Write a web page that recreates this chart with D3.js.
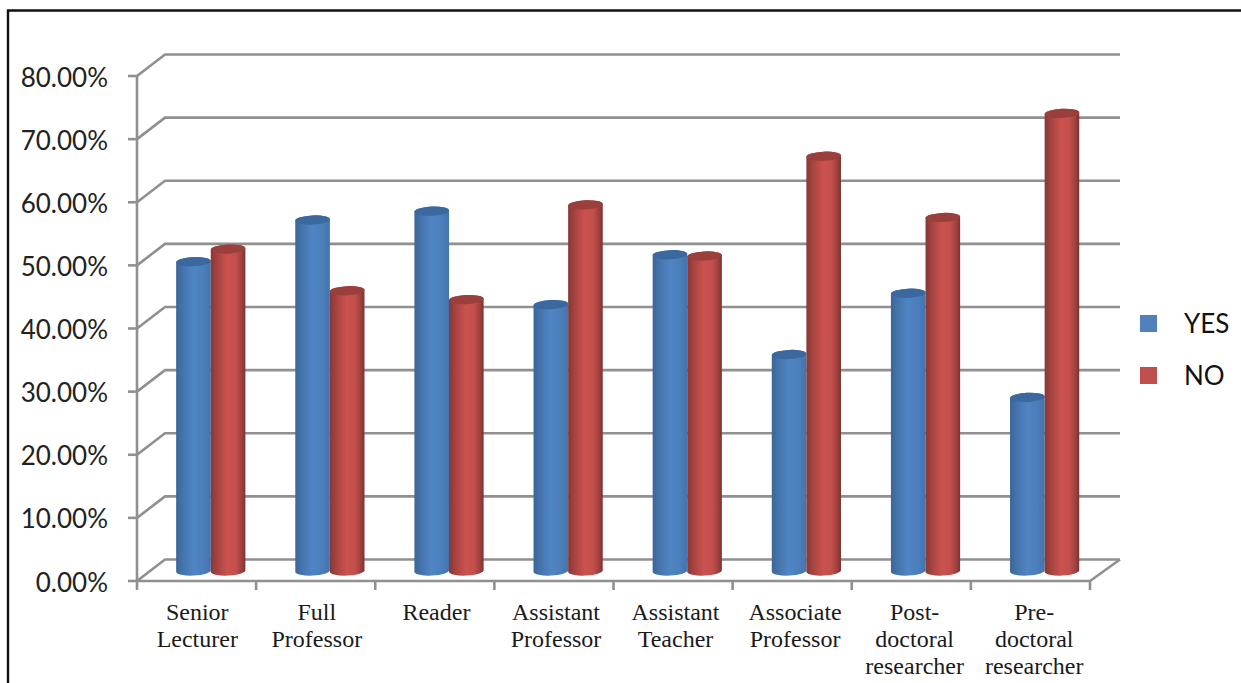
<!DOCTYPE html>
<html>
<head>
<meta charset="utf-8">
<script src="https://cdn.jsdelivr.net/npm/d3@7"></script>
<style>
html,body{margin:0;padding:0;background:#fff;}
svg{display:block;}
</style>
</head>
<body>
<svg id="chart" width="1241" height="683"></svg>
<script>
const categories = [
  ["Senior","Lecturer"],
  ["Full","Professor"],
  ["Reader"],
  ["Assistant","Professor"],
  ["Assistant","Teacher"],
  ["Associate","Professor"],
  ["Post-","doctoral","researcher"],
  ["Pre-","doctoral","researcher"]
];
const yesValues = [49, 55.6, 57, 42.2, 50.1, 34.3, 44, 27.5];
const noValues  = [51, 44.4, 43, 58, 49.9, 65.7, 56, 72.5];
const seriesNames = ["YES", "NO"];
const yTicks = [0,10,20,30,40,50,60,70,80];

const svg = d3.select("#chart");
const W = 1241, H = 683;

// Page frame: left and top edges only
svg.append("path")
  .attr("d", `M8,${H} V10.5 H${W}`)
  .attr("fill","none").attr("stroke","#111").attr("stroke-width",2.4);

const x = d3.scaleBand().domain(d3.range(categories.length)).range([137,1090]);
const xLabel = d3.scaleBand().domain(d3.range(categories.length)).range([137.5,1094]);
const y = d3.scaleLinear().domain([0,80]).range([581,76]);
const depth = {dx:29, dy:-21.5};    // back wall offset of the 3D box
const barShift = {dx:14, dy:-10};   // bars stand part way into the box
const r = 17.3;                     // cylinder radius
const ry = 4.6;                     // ellipse height of a cylinder cap
const tilt = 0.8;                   // caps lean up towards the right

const defs = svg.append("defs");
function cylinderGradient(id, stops){
  const g = defs.append("linearGradient").attr("id",id)
    .attr("x1","0%").attr("x2","100%").attr("y1","0%").attr("y2","0%");
  stops.forEach(([o,c]) => g.append("stop").attr("offset",o).attr("stop-color",c));
}
cylinderGradient("gradYES",[["0%","#3a6697"],["18%","#4473aa"],["50%","#5085c4"],["80%","#4b7eba"],["100%","#4274ae"]]);
cylinderGradient("gradNO",[["0%","#873836"],["22%","#ab4542"],["48%","#ca524f"],["72%","#c44f4c"],["90%","#9c403e"],["100%","#7a3230"]]);
const capColor = {YES:"#3a689f", NO:"#9b3f3c"};

// Gridlines: side wall diagonal + back wall horizontal
const gridColor = "#909090";
const grid = svg.append("g").attr("fill","none").attr("stroke",gridColor).attr("stroke-width",2.6);
const x0 = x.range()[0], x1 = x.range()[1];
grid.selectAll("path.grid").data(yTicks).join("path").attr("class","grid")
  .attr("d", d => `M${x0},${y(d)} L${x0+depth.dx-1},${y(d)+depth.dy} H${x1+30}`);

// Floor front edge and right edge
grid.append("path")
  .attr("d", `M${x0},${y(0)} H${x1} L${x1+30},${y(0)+depth.dy}`);

// Vertical axis and its ticks
grid.append("line").attr("x1",137).attr("x2",137).attr("y1",y(80)).attr("y2",590);
grid.selectAll("line.ytick").data(yTicks).join("line").attr("class","ytick")
  .attr("x1",128).attr("x2",137).attr("y1",d=>y(d)).attr("y2",d=>y(d));

// Category ticks along the floor edge
grid.selectAll("line.xtick").data(d3.range(1,categories.length+1)).join("line").attr("class","xtick")
  .attr("x1",i=>137+x.step()*i).attr("x2",i=>137+x.step()*i)
  .attr("y1",y(0)).attr("y2",590);

// Value axis labels
svg.append("g").selectAll("text").data(yTicks).join("text")
  .attr("x",108).attr("y",d=>y(d)+10.5)
  .attr("text-anchor","end")
  .attr("font-family","Lato, 'Open Sans', sans-serif")
  .attr("font-size",26).attr("fill","#222")
  .text(d=>d3.format(".2f")(d)+"%");

// Cylinders, drawn from the named value arrays
function cylinderPath(cx, v){
  const top = y(v)+barShift.dy, base = y(0)+barShift.dy;
  const l = cx-r, rr = cx+r;
  return `M${l},${top+tilt} V${base+tilt} A${r},${ry} -2.5 0 0 ${rr},${base-tilt} V${top-tilt} A${r},${ry} -2.5 0 0 ${l},${top+tilt} Z`;
}
const barsData = categories.map((c,i)=>[
  {i, s:"YES", v:yesValues[i], cx:x(i)+x.bandwidth()/2+barShift.dx-r+0.2},
  {i, s:"NO",  v:noValues[i],  cx:x(i)+x.bandwidth()/2+barShift.dx+r+0.2}
]).flat();
const bars = svg.append("g").selectAll("g").data(barsData).join("g");
bars.append("path")
  .attr("d",d=>cylinderPath(d.cx,d.v))
  .attr("fill",d=>`url(#grad${d.s})`);
bars.append("ellipse")
  .attr("cx",0).attr("cy",0)
  .attr("rx",r).attr("ry",ry)
  .attr("transform",d=>`translate(${d.cx},${y(d.v)+barShift.dy}) rotate(-2.5)`)
  .attr("fill",d=>capColor[d.s]);

// Category labels
const labels = svg.append("g")
  .attr("font-family","'Liberation Serif', serif")
  .attr("font-size",24).attr("fill","#1a1a1a").attr("text-anchor","middle");
categories.forEach((lines,i)=>{
  const cx = xLabel(i)+xLabel.bandwidth()/2;
  const t = labels.append("text").attr("x",cx).attr("y",620);
  lines.forEach((ln,k)=> t.append("tspan").attr("x",cx).attr("dy",k?27:0).text(ln));
});

// Legend
const legendFill = {YES:"#4f81bd", NO:"#c0504d"};
const legend = svg.append("g").selectAll("g").data(seriesNames).join("g")
  .attr("transform",(d,i)=>`translate(1140,${315+i*52})`);
legend.append("rect").attr("width",17).attr("height",17).attr("fill",d=>legendFill[d]);
legend.append("text").attr("x",44).attr("y",18)
  .attr("font-family","Lato, 'Open Sans', sans-serif")
  .attr("font-size",26).attr("fill","#111").text(d=>d);
</script>
</body>
</html>
